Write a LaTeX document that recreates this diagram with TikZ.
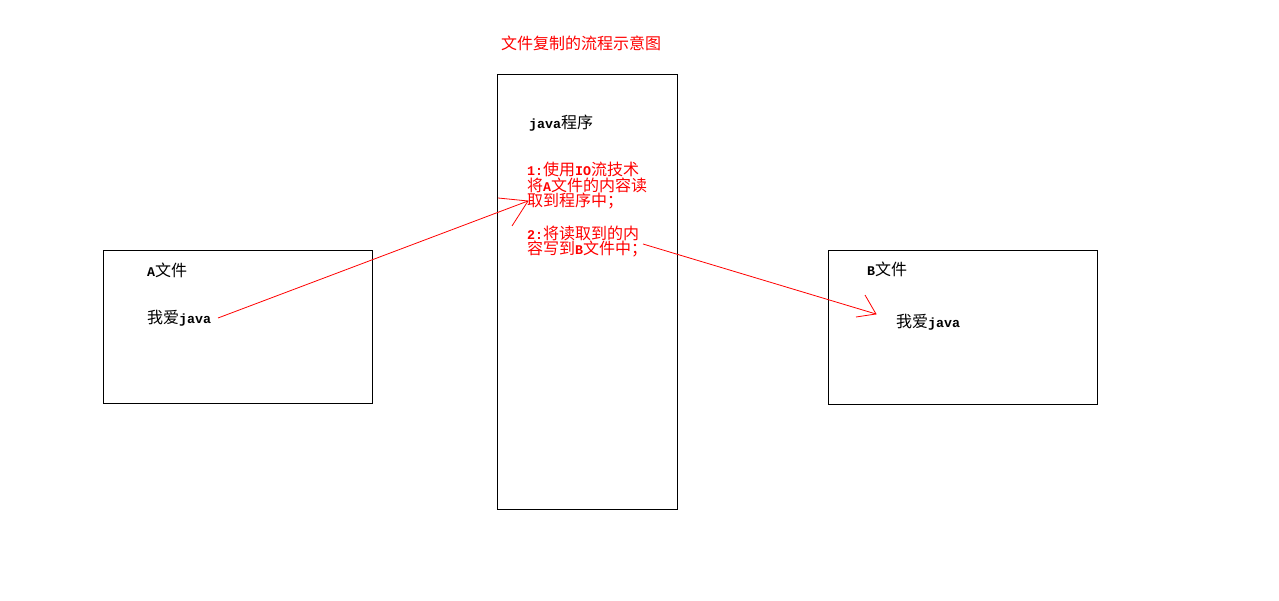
\documentclass[tikz,border=0pt]{standalone}
\usepackage{fontspec}
\setmainfont{Noto Sans CJK SC}
\newfontfamily\mo{Liberation Mono}[BoldFont={Liberation Mono Bold}]
\newcommand{\m}[1]{{\mo\bfseries\fontsize{13.3}{16}\selectfont #1}}
\begin{document}
\begin{tikzpicture}[x=1pt,y=-1pt,
  box/.style={draw=black,line width=1pt,inner sep=0pt,anchor=north west},
  txt/.style={anchor=west,inner sep=0pt,font=\fontsize{16}{16}\selectfont},
  rtxt/.style={txt,text=red,align=left},
  conn/.style={draw=red,line width=0.8pt}]
\useasboundingbox (0,0) rectangle (1279,601);
\fill[white] (0,0) rectangle (1279,601);
% boxes
\node[box,minimum width=269pt,minimum height=153pt] (boxA) at (103,250) {};
\node[box,minimum width=180pt,minimum height=435pt] (prog) at (497,74) {};
\node[box,minimum width=269pt,minimum height=154pt] (boxB) at (828,250) {};
% texts
\node[txt,text=red] (title) at (501,43) {文件复制的流程示意图};
\node[txt] (ptitle) at (529,123) {\m{java}程序};
\node[rtxt] (s1a) at (527,169) {\m{1:}使用\m{IO}流技术};
\node[rtxt] (s1b) at (527,185) {将\m{A}文件的内容读};
\node[rtxt] (s1c) at (527,201) {取到程序中；};
\node[rtxt] (s2a) at (527,233) {\m{2:}将读取到的内};
\node[rtxt] (s2b) at (527,249) {容写到\m{B}文件中；};
\node[txt] (atitle) at (147,270) {\m{A}文件};
\node[txt] (atext) at (147,318) {我爱\m{java}};
\node[txt] (btitle) at (867,269) {\m{B}文件};
\node[txt] (btext) at (896,322) {我爱\m{java}};
% connectors
\coordinate (a1s) at (218,318);
\coordinate (a1t) at (528,201);
\coordinate (a1h1) at (498,198);
\coordinate (a1h2) at (512,226);
\coordinate (a2s) at (643,244);
\coordinate (a2t) at (876,314);
\coordinate (a2h1) at (865,295);
\coordinate (a2h2) at (856,317);
\draw[conn] (a1s) -- (a1t);
\draw[conn] (a1h1) -- (a1t) -- (a1h2);
\draw[conn] (a2s) -- (a2t);
\draw[conn] (a2h1) -- (a2t) -- (a2h2);
\end{tikzpicture}
\end{document}
